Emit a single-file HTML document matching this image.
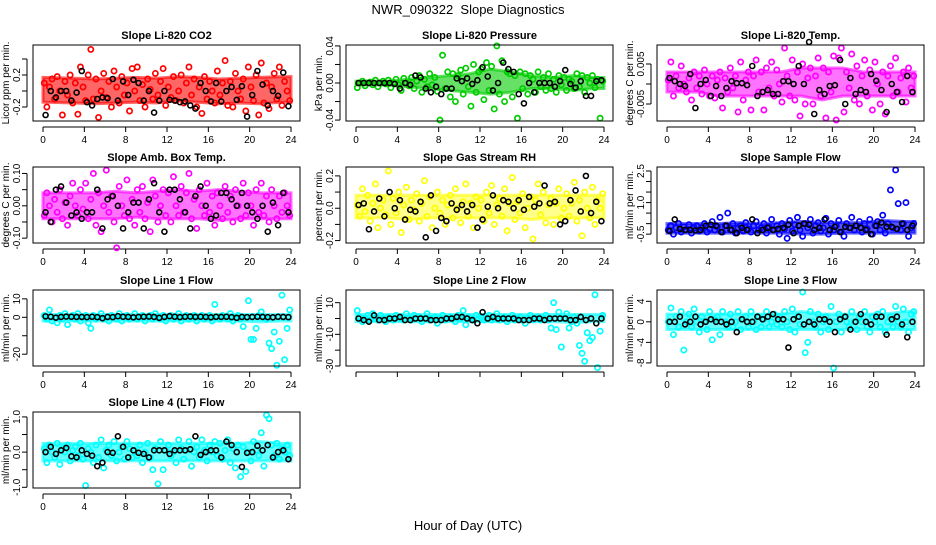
<!DOCTYPE html>
<html><head><meta charset="utf-8"><style>
body{margin:0;background:#fff;}
svg text{font-family:"Liberation Sans",sans-serif;fill:#000;}
</style></head><body>
<svg id="chart" width="936" height="540" viewBox="0 0 936 540" xmlns="http://www.w3.org/2000/svg">
<text x="468" y="14" font-size="13" text-anchor="middle" xml:space="preserve">NWR_090322  Slope Diagnostics</text>
<text x="468" y="530" font-size="13" text-anchor="middle">Hour of Day (UTC)</text>
</svg>
<script>
const xTicks = [0,4,8,12,16,20,24];
const titles = ["Slope Li-820 CO2","Slope Li-820 Pressure","Slope Li-820 Temp.","Slope Amb. Box Temp.","Slope Gas Stream RH","Slope Sample Flow","Slope Line 1 Flow","Slope Line 2 Flow","Slope Line 3 Flow","Slope Line 4 (LT) Flow"];
const yTitles = ["Licor ppm per min.","kPa per min.","degrees C per min.","degrees C per min.","percent per min.","ml/min per min.","ml/min per min.","ml/min per min.","ml/min per min.","ml/min per min."];
const colors = ["#ff0000","#00cd00","#ff00ff","#ff00ff","#ffff00","#0000ff","#00ffff","#00ffff","#00ffff","#00ffff"];
const yTickVals = [[-0.2,0,0.2,0.4],[-0.04,-0.02,0,0.02,0.04],[-0.005,0,0.005],[-0.1,-0.05,0,0.05,0.1],[-0.2,-0.1,0,0.1,0.2],[-0.5,0,0.5,1,1.5,2,2.5],[-20,-10,0,10],[-30,-20,-10,0,10],[-8,-4,0,4],[-1,-0.5,0,0.5,1]];
const yTickLabels = [["-0.2","","0.2",""],["-0.04","","0.00","","0.04"],["-0.005","","0.005"],["-0.10","","0.00","","0.10"],["-0.2","","0.0","","0.2"],["-0.5","","","1.0","","","2.5"],["-20","","0","10"],["-30","","-10","","10"],["-8","-4","0","4"],["-1.0","","0.0","","1.0"]];
const yMin = [-0.375,-0.041,-0.00925,-0.115,-0.215,-0.92,-26.4,-30,-8.6,-1.02];
const yMax = [0.575,0.041,0.00975,0.12,0.255,2.69,14.8,18,6.2,1.14];
const bandOpacity = [0.6,0.6,0.55,0.55,0.45,0.65,0.6,0.6,0.6,0.6];

// core cloud envelope per 2-hour block (12 blocks)
const bandLo = [
[-0.14,-0.15,-0.16,-0.15,-0.14,-0.15,-0.12,-0.14,-0.16,-0.15,-0.16,-0.14],
[-0.002,-0.002,-0.004,-0.006,-0.008,-0.01,-0.012,-0.01,-0.006,-0.006,-0.008,-0.006],
[-0.002,-0.002,-0.003,-0.003,-0.003,-0.003,-0.003,-0.004,-0.003,-0.003,-0.003,-0.003],
[-0.04,-0.04,-0.04,-0.04,-0.035,-0.04,-0.04,-0.04,-0.045,-0.04,-0.04,-0.04],
[-0.06,-0.06,-0.07,-0.06,-0.06,-0.06,-0.06,-0.06,-0.07,-0.06,-0.06,-0.06],
[-0.45,-0.45,-0.45,-0.45,-0.45,-0.45,-0.5,-0.5,-0.45,-0.45,-0.45,-0.45],
[-2,-2,-2,-2,-2,-2,-2,-2,-2,-2,-2.5,-2],
[-2,-2,-2,-2,-2,-2,-2,-2,-2,-2,-2.5,-2],
[-1.5,-1.5,-1.5,-1.5,-1.5,-1.5,-1.5,-1.5,-1.5,-1.5,-1.5,-1.5],
[-0.25,-0.25,-0.25,-0.25,-0.25,-0.25,-0.25,-0.25,-0.25,-0.25,-0.25,-0.25]
];
const bandHi = [
[0.17,0.16,0.15,0.16,0.17,0.16,0.18,0.17,0.15,0.16,0.17,0.18],
[0.002,0.002,0.004,0.006,0.008,0.01,0.015,0.012,0.008,0.006,0.008,0.006],
[0.003,0.003,0.003,0.003,0.003,0.003,0.004,0.004,0.004,0.003,0.003,0.003],
[0.04,0.04,0.04,0.045,0.04,0.045,0.05,0.045,0.05,0.045,0.04,0.04],
[0.08,0.08,0.08,0.08,0.08,0.08,0.08,0.08,0.08,0.08,0.08,0.08],
[0.0,0.0,0.0,0.05,0.0,0.05,0.1,0.05,0.05,0.05,0.15,0.1],
[1.5,1.5,1.5,1.5,1.5,1.5,1.5,1.5,1.5,1.5,1.5,1.5],
[2.5,2.5,2.5,2.5,2.5,2.5,2.5,2.5,2.5,2.5,2.5,2.5],
[1.5,1.5,1.5,1.5,1.5,1.5,2,1.5,1.5,1.5,1.5,2],
[0.25,0.25,0.25,0.25,0.25,0.25,0.25,0.25,0.25,0.25,0.3,0.25]
];

const colorSeries = [
[0.1,-0.2,0.05,0.15,-0.1,0.18,0.0,-0.3,0.12,-0.05,0.2,-0.15,0.1,-0.29,0.3,0.05,-0.12,0.2,0.52,-0.1,0.15,-0.33,0.0,0.22,-0.08,0.12,-0.2,0.25,0.05,-0.15,0.18,-0.05,0.1,-0.25,0.28,0.0,0.3,-0.12,0.08,-0.2,0.15,0.02,-0.1,0.22,-0.05,0.12,0.28,-0.18,0.05,-0.08,0.18,-0.12,0.0,0.2,-0.15,0.1,0.3,-0.05,0.15,-0.2,0.05,-0.28,0.18,-0.1,0.12,0.0,-0.15,0.25,-0.05,0.1,0.38,-0.18,0.12,-0.2,0.22,0.0,-0.1,0.15,-0.25,0.3,0.05,-0.12,0.2,-0.3,0.35,-0.15,0.1,-0.22,0.05,0.22,-0.1,0.3,-0.18,0.12,0.0,-0.12],
[-0.005,0,0.002,-0.003,0,0.001,-0.002,0.003,-0.004,0,0.002,-0.001,0.003,-0.005,0,0.004,-0.002,-0.008,0.005,0,-0.003,0.006,-0.006,0.002,0.008,-0.01,0.004,-0.004,0.01,-0.002,0.006,-0.009,-0.04,0.03,-0.006,0.012,-0.015,0.01,-0.02,0.008,0.014,-0.012,0.016,-0.004,-0.025,0.02,-0.01,0.012,0.015,-0.018,0.022,-0.008,0.018,-0.028,0.04,-0.012,0.024,-0.02,0.012,0.01,-0.015,0.008,-0.038,0.012,-0.006,0.01,-0.012,0.008,0.004,-0.01,0.012,-0.004,0.006,-0.008,0.01,-0.006,0.004,-0.01,0.008,-0.002,0.006,-0.008,0.004,0.002,-0.006,0.01,-0.004,0.008,-0.01,0.006,0.0,0.008,-0.005,0.004,-0.038,0.002],
[0.001,0.0055,-0.003,0.002,-0.001,0.0045,0.0,-0.002,0.0015,-0.004,0.003,-0.001,0.002,-0.0025,0.0035,0.0,-0.003,0.002,-0.0035,0.001,0.003,-0.006,0.0015,-0.002,0.004,-0.001,0.002,-0.007,0.0055,-0.004,0.001,0.003,-0.0065,0.002,0.006,-0.002,0.003,-0.0065,0.004,-0.001,0.0055,-0.003,0.0035,0.0,-0.0045,0.009,0.002,-0.003,0.006,-0.004,0.003,-0.008,0.005,-0.005,0.0015,0.004,-0.005,0.002,0.0065,-0.003,0.004,-0.0085,0.003,-0.002,0.007,-0.009,0.0065,0.009,-0.007,0.003,-0.001,0.0075,-0.004,0.0045,-0.005,0.002,0.006,-0.003,0.0035,-0.0065,0.0055,0.0,-0.005,0.003,-0.0075,0.002,0.0045,-0.003,0.0065,-0.002,0.0015,0.003,-0.0045,0.004,-0.001,0.002],
[-0.03,0.04,0.0,-0.05,0.02,-0.02,0.05,-0.04,0.01,-0.06,0.03,0.07,0.0,-0.03,0.05,-0.01,0.07,-0.04,0.02,0.1,-0.06,0.04,-0.08,0.0,0.11,-0.02,0.03,-0.05,-0.13,0.06,0.0,-0.03,0.08,-0.04,0.02,-0.06,0.05,-0.02,0.06,-0.04,0.01,-0.08,0.08,0.03,-0.05,0.0,0.05,-0.03,0.04,-0.05,0.09,0.0,-0.03,0.06,-0.02,0.04,0.1,-0.04,0.02,-0.07,0.05,0.0,-0.03,0.07,-0.02,0.03,-0.06,0.04,0.0,-0.04,0.06,-0.02,0.03,-0.05,0.05,0.0,-0.04,0.07,-0.03,0.04,0.0,-0.06,0.05,-0.02,0.07,-0.03,0.03,-0.05,0.05,0.0,-0.04,0.03,-0.02,0.04,0.0,-0.03],
[0.02,-0.05,0.12,-0.02,0.08,-0.08,0.03,0.15,-0.12,0.0,0.05,-0.04,0.23,-0.1,0.06,-0.03,0.1,-0.15,0.02,0.13,-0.07,0.05,-0.01,0.09,-0.08,0.03,0.17,-0.05,0.07,-0.12,0.0,0.1,-0.03,0.05,-0.1,0.02,0.08,-0.06,0.12,0.0,-0.09,0.04,0.15,-0.05,0.03,-0.12,0.07,0.0,0.05,-0.08,0.1,-0.03,0.14,-0.1,0.02,0.06,-0.05,0.12,-0.14,0.03,0.19,-0.07,0.04,-0.03,0.09,-0.12,0.0,0.07,-0.19,0.05,0.15,-0.04,0.1,-0.09,0.02,0.06,-0.1,0.03,0.12,-0.06,0.0,0.09,-0.05,0.03,0.16,-0.08,0.05,-0.17,0.1,0.0,-0.06,0.13,-0.1,0.05,0.0,0.09],
[-0.3,-0.1,-0.5,-0.2,0.0,-0.4,-0.15,-0.3,-0.05,-0.45,-0.2,-0.1,-0.35,-0.2,0.0,-0.4,-0.25,0.1,-0.3,-0.15,0.3,-0.4,-0.1,0.5,-0.3,0.0,-0.45,-0.2,-0.1,-0.35,0.05,-0.25,-0.4,-0.1,0.1,-0.3,-0.2,0.0,-0.45,-0.15,0.2,-0.3,-0.1,-0.5,0.0,-0.25,-0.7,0.15,-0.35,-0.05,0.3,-0.3,-0.6,0.0,-0.2,0.2,-0.45,-0.1,0.05,-0.35,-0.2,0.25,-0.5,0.0,-0.3,-0.1,0.15,-0.4,-0.6,0.0,-0.2,0.3,-0.3,-0.1,0.1,-0.4,0.0,-0.25,0.2,-0.5,-0.1,0.1,-0.3,0.4,-0.45,0.0,1.6,-0.2,2.55,0.95,-0.3,0.0,1.0,-0.6,-0.2,0.0],
[1,-1,4,-2,0,-3,1,-1,2,-4,0,1,-1,2,-2,0,1,-3,-6,1,-1,0,2,-1,0,-2,1,0,-1,2,-2,0,1,-1,0,2,-1,0,1,-2,0,1,-1,2,0,-1,1,-2,0,1,-1,0,2,-2,0,1,-1,0,1,-2,0,1,-1,0,1,-2,7,0,-1,1,0,-1,2,-2,0,1,-1,-5,0,9,-12,-12,-6,1,3,0,-1,-14,-17,-8,-26,-13,12,-23,-6,4],
[5,1,-2,0,2,-1,3,0,-1,2,0,-2,1,0,-1,2,0,1,-1,3,0,-1,2,0,1,-2,0,3,-1,0,1,-3,0,2,-1,0,1,0,-2,2,0,5,-4,1,0,-1,2,0,1,-1,0,2,-1,0,3,-1,0,1,-2,0,2,-1,0,1,-1,-3,0,2,-1,0,1,-1,0,2,-1,-6,10,-7,4,-18,0,3,-6,-2,1,-3,-17,-22,-27,-9,-14,-12,15,-31,-8,2],
[0,2.7,-2.5,1,-1,2,-5.5,0,1.5,-1,2.5,0,-2,1,0,-1.5,2,-3.5,0.5,1,-2.5,2,0,-1,1.5,-1,0,2,-1.5,0.5,1,-1,2,0,-1.5,1,-1,0.5,2,-1,0,1.5,-0.5,1,-1,2,0,-1.5,2.5,-2,1,-0.5,5.8,-6,-4,2,0,-1,1.5,-2,0,1,-1.5,3,-9,0,1.5,-2,1,0,-1,2,0,-1.5,1,0,2,-1,-2,1,0,1.5,-1,2,-2,0,1,-1,3,0,-1,2.5,0,-2,1.5,2],
[0.1,-0.3,0.2,0.0,-0.15,0.25,-0.35,0.1,0.0,0.2,-0.25,0.05,0.15,-0.1,0.25,-0.2,-0.95,0.1,0.0,-0.3,0.2,-0.15,0.35,-0.45,0.05,0.2,-0.1,0.3,-0.25,0.0,0.15,-0.2,0.3,0.1,-0.15,0.05,-0.1,0.2,-0.3,0.0,0.25,-0.15,-0.5,0.1,-0.9,0.3,-0.5,0.05,0.2,-0.1,0.0,-0.3,0.35,0.1,-0.2,0.05,0.3,-0.4,0.0,0.15,-0.15,0.35,0.05,-0.25,0.2,0.0,0.3,-0.1,0.25,-0.2,0.05,0.35,-0.3,0.1,-0.45,0.2,-0.7,0.15,-0.55,0.0,-0.25,0.3,0.05,-0.1,0.55,-0.4,1.05,0.95,0.2,-0.1,0.25,-0.2,0.1,0.0,0.2,-0.1]
];
const blackSeries = [
[-0.3,0.0,-0.08,0.0,0.0,-0.12,-0.02,0.25,-0.14,-0.18,-0.1,-0.08,-0.09,0.15,-0.12,0.12,-0.05,0.14,0.1,-0.12,0.0,-0.27,-0.12,0.0,-0.11,-0.12,-0.14,-0.13,-0.18,-0.22,0.1,0.0,-0.13,0.1,-0.13,0.0,0.05,-0.11,0.06,-0.32,-0.05,0.25,0.08,-0.18,0.0,-0.06,0.23,-0.19],
[0,0,0,0,0,0,0,-0.001,-0.006,0,-0.002,0.008,0.006,-0.006,-0.01,-0.004,-0.012,-0.006,-0.006,0.005,0.002,0.005,-0.001,0.003,0.017,0.007,-0.008,0,0.022,0.015,0.012,-0.012,-0.022,0,-0.01,0,0,0,-0.004,0.002,0.014,-0.001,-0.005,0.002,-0.014,-0.014,0.002,0.003],
[0.0015,0.0007,0.0,-0.0005,0.0025,-0.006,0.0,0.001,-0.003,-0.0005,-0.003,-0.001,0.0007,0.0002,0.0002,-0.0003,0.0045,-0.003,-0.002,-0.0015,-0.0025,-0.0025,0.0007,0.0007,0.0,0.0045,0.0,0.0105,-0.0075,-0.0015,-0.0025,-0.0005,-0.0003,0.006,-0.005,0.0015,-0.0025,-0.0015,-0.002,0.0025,0.0008,-0.0015,-0.007,0.0,-0.002,-0.0045,0.002,-0.002],
[-0.02,-0.05,0.05,0.06,0.01,-0.03,-0.02,-0.04,-0.02,-0.02,0.05,-0.07,0.02,0.03,0.0,-0.07,-0.02,0.01,0.01,-0.07,0.02,0.07,-0.02,-0.08,0.05,0.05,0.02,-0.02,-0.07,0.03,0.06,0.0,-0.04,-0.03,0.04,0.04,0.02,0.0,0.04,0.0,-0.02,-0.04,0.0,-0.08,0.01,-0.06,0.04,-0.02],
[0.02,0.03,-0.13,-0.02,0.06,-0.05,0.1,0.0,0.05,-0.07,-0.01,-0.02,0.04,-0.18,0.08,-0.14,-0.06,-0.08,0.03,-0.01,0.02,-0.02,0.02,-0.12,-0.07,0.01,0.08,0.0,0.05,0.04,0.0,0.05,-0.01,0.07,0.01,0.03,0.14,0.03,0.04,-0.1,-0.08,0.05,0.11,-0.02,0.2,-0.03,0.04,-0.08],
[-0.35,0.2,-0.25,-0.3,-0.3,-0.32,-0.3,-0.1,-0.05,-0.1,-0.4,-0.1,-0.3,-0.45,-0.2,-0.3,0.2,-0.45,-0.3,-0.2,-0.3,-0.25,-0.2,-0.05,-0.45,-0.1,0.0,-0.05,-0.3,-0.2,0.2,-0.3,-0.15,-0.4,-0.15,-0.2,-0.1,-0.2,-0.3,-0.5,-0.1,0.05,-0.15,-0.15,-0.25,0.0,-0.3,-0.1],
[0.5,0.3,-0.2,0.2,0.4,0.3,0.2,0.2,0.1,0.3,0.1,-0.5,0.2,0.1,0.6,0.3,0.2,0,0.2,0.3,0.4,0.2,-0.3,0.2,0.6,0.3,0.1,0.3,0.4,0.2,0.3,0.2,0,0.3,0.2,0.3,0.1,-0.3,0.2,0.1,0.2,0.3,0.2,0.1,0,0.3,0.2,0.1],
[0,-1,-2,2,-1,-1,0,0,1,-1,-1,0,0,0,-1,-1,-1,0,0,1,1,0,-1,-3,4,0,1,0,0,0,0,-1,-1,-1,0,0,-1,0,0,0,0,-1,-1,1,-1,0,-3,0],
[0,0,1,-0.5,0,1,-0.5,0,0.5,0,0,-0.5,0,-2,0.5,0,0,1,0.5,1,1.5,0.5,0.5,-5,0.5,1,-0.5,0,-0.5,0.5,0.5,0,-2,0.5,1,-1.5,0,1.5,0,-0.5,1,1,-2.5,0.5,1,-0.5,-3,0],
[0,0.15,-0.05,0.05,0.12,-0.12,-0.15,0.05,-0.05,-0.1,-0.4,-0.3,0,-0.02,0.45,0.15,-0.15,0.05,-0.02,-0.05,-0.15,0.05,0.05,0.05,-0.05,0.05,0.05,0.05,0.08,0.45,-0.08,0,0.05,0.05,-0.15,0.3,0.2,0,-0.42,-0.02,0,0.18,0.05,0.2,-0.15,0,0.05,-0.2]
];

const NS = "http://www.w3.org/2000/svg";
const svg = document.getElementById("chart");
const colLeft = [33,346,657], rowTop = [45,167,290,412], boxW = 267, boxH = 76;
function mk(tag, attrs, parent){const e=document.createElementNS(NS,tag);for(const k in attrs)e.setAttribute(k,attrs[k]);(parent||svg).appendChild(e);return e;}

titles.forEach((title, p) => {
  const L = colLeft[p%3], T = rowTop[Math.floor(p/3)];
  const g = mk("g", {});
  
  
  const xs = h => L + 10 + h * (248/24);
  const ys = v => T + boxH - (v - yMin[p]) / (yMax[p] - yMin[p]) * boxH;
  const t = mk("text", {x: L + boxW/2, y: T - 6, "font-size": 11, "font-weight": "bold", "text-anchor": "middle"}, g);
  t.textContent = title;
  
  
  const yt = mk("text", {transform: `translate(${L-24},${T+boxH/2}) rotate(-90)`, "font-size": 10, "text-anchor": "middle"}, g);
  yt.textContent = yTitles[p];
  
  
  mk("line", {x1: xs(0), x2: xs(24), y1: T+boxH+6, y2: T+boxH+6, stroke: "#000"}, g);
  xTicks.forEach(v => {
    mk("line", {x1: xs(v), x2: xs(v), y1: T+boxH+6, y2: T+boxH+11, stroke: "#000"}, g);
    if (p !== 7) {
      const tx = mk("text", {x: xs(v), y: T+boxH+22, "font-size": 10, "text-anchor": "middle"}, g);
      tx.textContent = v;
      
      
    }
  });
  const yv = yTickVals[p];
  mk("line", {x1: L-6, x2: L-6, y1: ys(yv[0]), y2: ys(yv[yv.length-1]), stroke: "#000"}, g);
  yv.forEach((v, i) => {
    mk("line", {x1: L-11, x2: L-6, y1: ys(v), y2: ys(v), stroke: "#000"}, g);
    if (yTickLabels[p][i]) {
      const ty = mk("text", {transform: `translate(${L-13},${ys(v)}) rotate(-90)`, "font-size": 10, "text-anchor": "middle"}, g);
      ty.textContent = yTickLabels[p][i];
      
      
    }
  });
  // dense cloud envelope
  const lo = bandLo[p], hi = bandHi[p];
  let pts = [];
  hi.forEach((v, i) => pts.push(xs(i*2 + (i===0?0:1)) + "," + ys(v)));
  pts.push(xs(24) + "," + ys(hi[hi.length-1]));
  pts.push(xs(24) + "," + ys(lo[lo.length-1]));
  for (let i = lo.length-1; i >= 0; i--) pts.push(xs(i*2 + (i===0?0:1)) + "," + ys(lo[i]));
  const band = mk("polygon", {points: pts.join(" "), fill: colors[p], "fill-opacity": bandOpacity[p], stroke: colors[p], "stroke-opacity": 0.6, "stroke-width": 3}, g);
  
  
  const cs = colorSeries[p];
  cs.forEach((v, i) => {
    const c = mk("circle", {cx: xs((i + 0.5) * 24 / cs.length), cy: ys(v), r: 2.6, fill: "none", stroke: colors[p], "stroke-width": 1.7}, g);
    
    
  });
  const bs = blackSeries[p];
  bs.forEach((v, i) => {
    const c = mk("circle", {cx: xs((i + 0.5) * 24 / bs.length), cy: ys(v), r: 2.5, fill: "none", stroke: "#000", "stroke-width": 1.6}, g);
    
    
  });
  const box = mk("rect", {x: L, y: T, width: boxW, height: boxH, fill: "none", stroke: "#000"}, g);
  
  
});
</script>
</body></html>
